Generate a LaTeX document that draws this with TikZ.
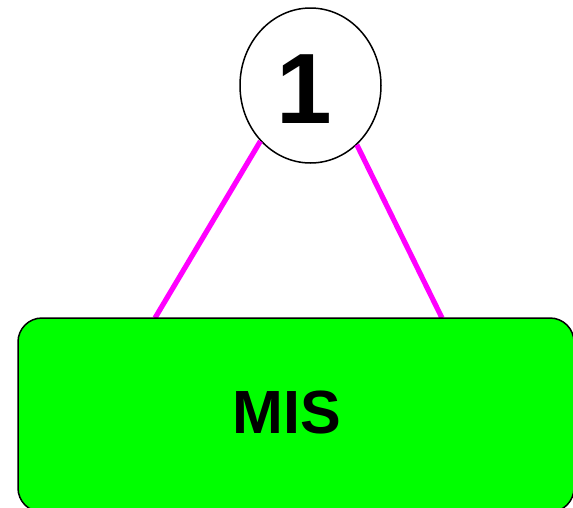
\documentclass[tikz,border=0pt]{standalone}
\usepackage{fontspec}
\setmainfont{Liberation Sans}
\usetikzlibrary{positioning,calc,shapes.geometric}
\definecolor{LinkPink}{RGB}{255,0,255}
\definecolor{BoxGreen}{RGB}{0,255,0}
\tikzset{
	num/.style={ellipse,draw=black,fill=white,line width=1.5pt,inner sep=0pt,
		minimum width=141pt,minimum height=155pt},
	box/.style={draw=black,fill=BoxGreen,line width=1.5pt,rounded corners=24pt},
	link/.style={draw=LinkPink,line width=5.2pt},
}

\begin{document}
\begin{tikzpicture}[x=1pt,y=-1pt]
			\useasboundingbox (0,0) rectangle (573,507);
			\node[num] (one) at (310.5,85.5) {};
			\node[font=\fontsize{100}{100}\bfseries\selectfont] (onetxt) at (304,89) {1};
			\coordinate (pl) at (155,318); \coordinate (pr) at (442,318);
			\foreach \a/\p in {228/pl,308/pr}
			\draw[link] (one.\a)--(\p);
			\draw[box] (18,318) rectangle (574,512);
			\node[font=\fontsize{61}{61}\bfseries\selectfont] (mis) at (287,412) {MIS};
		\end{tikzpicture}
\end{document}
